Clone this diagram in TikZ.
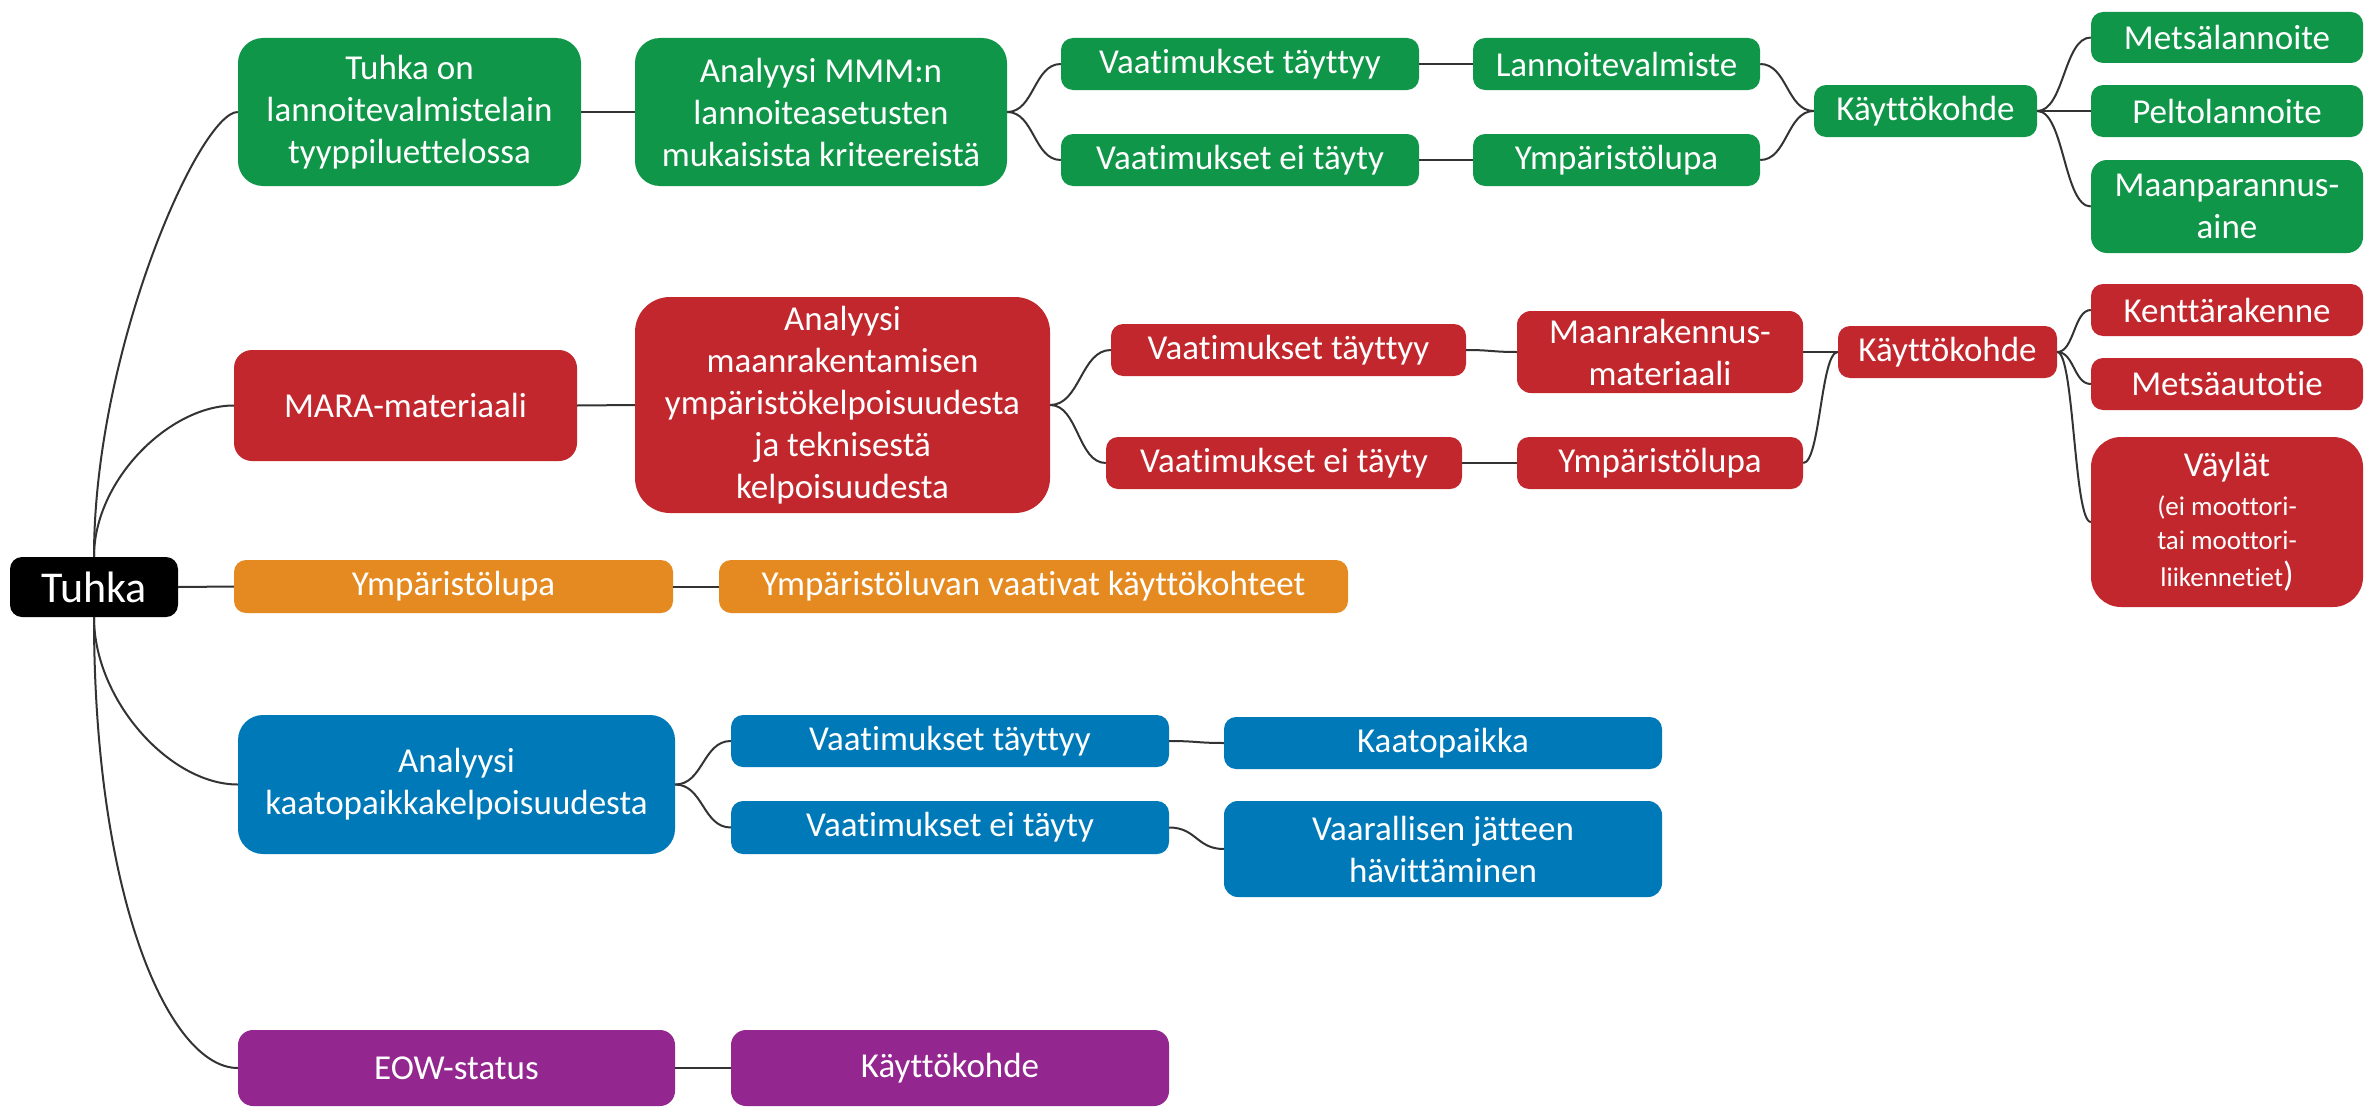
\documentclass[tikz,border=0pt]{standalone}
\usepackage{fontspec}
\setmainfont{Carlito}[Ligatures=NoCommon]
\definecolor{cgreen}{RGB}{16,150,72}
\definecolor{cred}{RGB}{193,39,45}
\definecolor{corange}{RGB}{229,138,32}
\definecolor{cblue}{RGB}{0,121,184}
\definecolor{cpurple}{RGB}{147,39,143}
\newcommand\smallfnt{\fontsize{27}{34}\selectfont}
\newcommand\bigfnt{\fontsize{35}{42}\selectfont}
\begin{document}
\begin{tikzpicture}[x=1pt,y=-1pt,
  box/.style={rounded corners=12pt, text=white, align=center, inner sep=0pt,
    font=\fontsize{35}{42}\selectfont},
  conn/.style={line width=2pt, draw=black!80},
  sc/.style={conn, to path={.. controls +(#1,0) and +(-#1,0) .. (\tikztotarget)}},
]
\useasboundingbox (0,0) rectangle (2366,1108);

% root
\node[box, fill=black, minimum width=168pt, minimum height=60pt, font=\fontsize{44}{50}\selectfont] (T) at (94,587) {Tuhka};

% green
\node[box, fill=cgreen, rounded corners=25pt, minimum width=343pt, minimum height=148pt] (g1) at (409.5,112) {Tuhka on\\lannoitevalmistelain\\tyyppiluettelossa};
\node[box, fill=cgreen, rounded corners=25pt, minimum width=372pt, minimum height=148pt] (g2) at (821,112) {Analyysi MMM:n\\lannoiteasetusten\\mukaisista kriteereistä};
\node[box, fill=cgreen, minimum width=358pt, minimum height=52pt] (g3) at (1240,64) {Vaatimukset täyttyy};
\node[box, fill=cgreen, minimum width=358pt, minimum height=52pt] (g4) at (1240,160) {Vaatimukset ei täyty};
\node[box, fill=cgreen, minimum width=287pt, minimum height=52pt] (g5) at (1616.5,64) {Lannoitevalmiste};
\node[box, fill=cgreen, minimum width=287pt, minimum height=52pt] (g6) at (1616.5,160) {Ympäristölupa};
\node[box, fill=cgreen, minimum width=223pt, minimum height=52pt] (g7) at (1925.5,111) {Käyttökohde};
\node[box, fill=cgreen, minimum width=272pt, minimum height=51pt] (g8) at (2227,37.5) {Metsälannoite};
\node[box, fill=cgreen, minimum width=272pt, minimum height=52pt] (g9) at (2227,111) {Peltolannoite};
\node[box, fill=cgreen, rounded corners=16pt, minimum width=272pt, minimum height=93pt] (g10) at (2227,206.5) {Maanparannus-\\aine};

% red
\node[box, fill=cred, rounded corners=18pt, minimum width=343pt, minimum height=111pt] (r1) at (405.5,405.5) {MARA-materiaali};
\node[box, fill=cred, rounded corners=35pt, minimum width=415pt, minimum height=216pt] (r2) at (842.5,405) {Analyysi\\maanrakentamisen\\ympäristökelpoisuudesta\\ja teknisestä\\kelpoisuudesta};
\node[box, fill=cred, minimum width=355pt, minimum height=52pt] (r3) at (1288.5,350) {Vaatimukset täyttyy};
\node[box, fill=cred, minimum width=356pt, minimum height=52pt] (r4) at (1284,463) {Vaatimukset ei täyty};
\node[box, fill=cred, rounded corners=14pt, minimum width=286pt, minimum height=82pt] (r5) at (1660,352) {Maanrakennus-\\materiaali};
\node[box, fill=cred, minimum width=286pt, minimum height=52pt] (r6) at (1660,463) {Ympäristölupa};
\node[box, fill=cred, minimum width=219pt, minimum height=52pt] (r7) at (1947.5,352) {Käyttökohde};
\node[box, fill=cred, minimum width=272pt, minimum height=52pt] (r8) at (2227,310) {Kenttärakenne};
\node[box, fill=cred, minimum width=272pt, minimum height=52pt] (r9) at (2227,384) {Metsäautotie};
\node[box, fill=cred, rounded corners=30pt, minimum width=272pt, minimum height=170pt] (r10) at (2227,522) {Väylät\\[-3pt]\smallfnt(ei moottori-\\[-8pt]\smallfnt tai moottori-\\[-5pt]\smallfnt liikennetiet\bigfnt)};

% orange
\node[box, fill=corange, minimum width=439pt, minimum height=53pt] (o1) at (453.5,586.5) {Ympäristölupa};
\node[box, fill=corange, minimum width=629pt, minimum height=53pt] (o2) at (1033.5,586.5) {Ympäristöluvan vaativat käyttökohteet};

% blue
\node[box, fill=cblue, rounded corners=25pt, minimum width=437pt, minimum height=139pt] (b1) at (456.5,784.5) {Analyysi\\kaatopaikkakelpoisuudesta};
\node[box, fill=cblue, minimum width=438pt, minimum height=52pt] (b2) at (950,741) {Vaatimukset täyttyy};
\node[box, fill=cblue, minimum width=438pt, minimum height=53pt] (b3) at (950,827.5) {Vaatimukset ei täyty};
\node[box, fill=cblue, minimum width=438pt, minimum height=52pt] (b4) at (1443,743) {Kaatopaikka};
\node[box, fill=cblue, rounded corners=14pt, minimum width=438pt, minimum height=96pt] (b5) at (1443,849) {Vaarallisen jätteen\\hävittäminen};

% purple
\node[box, fill=cpurple, rounded corners=15pt, minimum width=437pt, minimum height=76pt] (p1) at (456.5,1068) {EOW-status};
\node[box, fill=cpurple, rounded corners=15pt, minimum width=438pt, minimum height=76pt] (p2) at (950,1068) {Käyttökohde};

% root connectors
\draw[conn] (T.north) .. controls +(0,-207) and +(-38,0) .. (g1.west);
\draw[conn] (T.north) .. controls +(0,-77) and +(-64,0) .. (r1.west);
\draw[conn] (T.east) -- (o1.west);
\draw[conn] (T.south) .. controls +(0,83) and +(-68,0) .. (b1.west);
\draw[conn] (T.south) .. controls +(0,283) and +(-68,0) .. (p1.west);

% green connectors
\draw[conn] (g1.east) -- (g2.west);
\draw[sc=27] (g2.east) to (g3.west);
\draw[sc=27] (g2.east) to (g4.west);
\draw[conn] (g3.east) -- (g5.west);
\draw[conn] (g4.east) -- (g6.west);
\draw[sc=27] (g5.east) to (g7.west);
\draw[sc=27] (g6.east) to (g7.west);
\draw[sc=27] (g7.east) to (g8.west);
\draw[conn] (g7.east) -- (g9.west);
\draw[sc=27] (g7.east) to (g10.west);

% red connectors
\draw[conn] (r1.east) -- (r2.west);
\draw[sc=30] (r2.east) to (r3.west);
\draw[sc=28] (r2.east) to (r4.west);
\draw[sc=25] (r3.east) to (r5.west);
\draw[conn] (r4.east) -- (r6.west);
\draw[conn] (r5.east) -- (r7.west);
\draw[sc=17] (r6.east) to (r7.west);
\draw[sc=17] (r7.east) to (r8.west);
\draw[sc=17] (r7.east) to (r9.west);
\draw[sc=17] (r7.east) to (r10.west);

% orange connector
\draw[conn] (o1.east) -- (o2.west);

% blue connectors
\draw[sc=28] (b1.east) to (b2.west);
\draw[sc=28] (b1.east) to (b3.west);
\draw[sc=27] (b2.east) to (b4.west);
\draw[sc=27] (b3.east) to (b5.west);

% purple connector
\draw[conn] (p1.east) -- (p2.west);
\end{tikzpicture}
\end{document}
